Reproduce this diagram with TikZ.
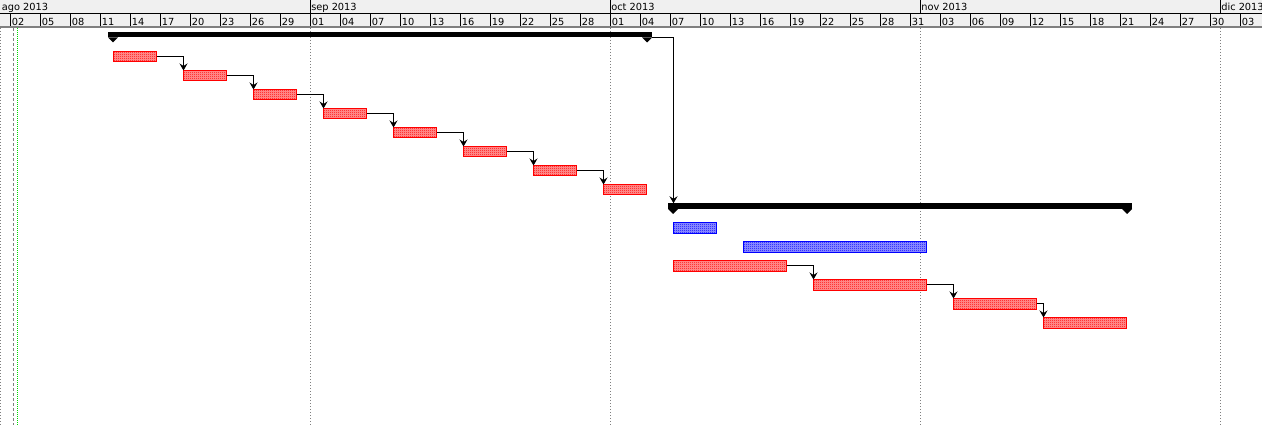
\documentclass[tikz,border=0pt]{standalone}
\usepackage{fontspec}
\setmainfont{DejaVu Sans}
\usetikzlibrary{arrows.meta,calc,patterns.meta}
\pgfdeclarepattern{name=checker,type=uncolored,
  bottom left={\pgfpoint{0pt}{0pt}},top right={\pgfpoint{2pt}{2pt}},
  tile size={\pgfpoint{2pt}{2pt}},
  code={\pgfpathrectangle{\pgfpoint{0pt}{0pt}}{\pgfpoint{1pt}{1pt}}
        \pgfpathrectangle{\pgfpoint{1pt}{1pt}}{\pgfpoint{1pt}{1pt}}
        \pgfusepath{fill}}}
\definecolor{hdrbg}{RGB}{240,240,240}
\definecolor{gridgray}{RGB}{128,128,128}
\definecolor{todaygreen}{RGB}{0,220,0}
\newcommand\ganttbar[6]{\node[#6, minimum width={#4-#2-1}, minimum height={#5-#3-1}] (#1) at ({#2+0.5},{#3+0.5}) {};}
\tikzset{
  barbase/.style={line width=1pt, inner sep=0pt, outer sep=0pt, anchor=north west},
  redbar/.style={barbase, draw=red, preaction={fill=red!40!white}, pattern={checker}, pattern color=red},
  bluebar/.style={barbase, draw=blue, preaction={fill=blue!40!white}, pattern={checker}, pattern color=blue},
  sumbar/.style={fill=black, draw=none, inner sep=0pt, outer sep=0pt, anchor=north west},
  conn/.style={draw=black, line width=1pt, -{Stealth[length=7pt,width=8pt,inset=2.5pt]}},
  hdrtext/.style={font=\fontsize{9.8}{10}\selectfont, inner sep=0pt, outer sep=0pt, anchor=base west},
  monthline/.style={gridgray, line width=1pt, dash pattern=on 1pt off 2pt},
}
\begin{document}
\begin{tikzpicture}[x=1pt,y=-1pt]
\useasboundingbox (0,0) rectangle (1262,425);
% header
\fill[hdrbg] (0,0) rectangle (1262,26);
\draw[black, line width=1pt] (0,13.5) -- (1262,13.5);
\draw[gridgray, line width=2pt] (0,27) -- (1262,27);
\foreach \mx/\mlab [count=\m] in {1/ago 2013,310.5/sep 2013,610.5/oct 2013,920.5/nov 2013,1220.5/dic 2013}{
  \ifnum\m>1 \draw[black, line width=1pt] (\mx,0) -- (\mx,13.5);
  \draw[monthline] (\mx,28) -- (\mx,425);\fi
  \node[hdrtext] (month\m) at ({\mx+0.8},10.4) {\mlab};
}
\foreach \lab [count=\k from 0] in {02,05,08,11,14,17,20,23,26,29,01,04,07,10,13,16,19,22,25,28,01,04,07,10,13,16,19,22,25,28,31,03,06,09,12,15,18,21,24,27,30,03}{
  \draw[black, line width=1pt] ({10.5+30*\k},13.5) -- ({10.5+30*\k},26);
  \node[hdrtext] (day\k) at ({11.8+30*\k},25.3) {\lab};
}
% left guide lines
\draw[monthline] (0.5,28) -- (0.5,425);
\draw[gridgray, line width=1pt, dash pattern=on 3pt off 2pt] (13.5,28) -- (13.5,425);
\draw[todaygreen, line width=1pt, dash pattern=on 1pt off 1pt] (17.5,28) -- (17.5,425);
% phase 1 summary
\node[sumbar, minimum width=544, minimum height=5.5] (s1) at (108,32) {};
\fill (s1.south west) -- ++(10,0) -- ++(-5,5) -- cycle;
\fill (s1.south east) -- ++(-10,0) -- ++(5,5) -- cycle;
% phase 1 tasks
\ganttbar{t1}{113}{51}{157}{62.5}{redbar}
\ganttbar{t2}{183}{70}{227}{81.5}{redbar}
\ganttbar{t3}{253}{89}{297}{100.5}{redbar}
\ganttbar{t4}{323}{108}{367}{119.5}{redbar}
\ganttbar{t5}{393}{127}{437}{138.5}{redbar}
\ganttbar{t6}{463}{146}{507}{157.5}{redbar}
\ganttbar{t7}{533}{165}{577}{176.5}{redbar}
\ganttbar{t8}{603}{184}{647}{195.5}{redbar}
\foreach \a/\b in {t1/t2,t2/t3,t3/t4,t4/t5,t5/t6,t6/t7,t7/t8}{
  \draw[conn] (\a.east) -| (\b.north west);
}
% phase 2 summary
\node[sumbar, minimum width=464, minimum height=5.7] (s2) at (668,203.3) {};
\fill (s2.south west) -- ++(10,0) -- ++(-5,5) -- cycle;
\fill (s2.south east) -- ++(-10,0) -- ++(5,5) -- cycle;
\coordinate (s2in) at ($(s2.north west)+(5.5,0)$);
\draw[conn] (s1.south east) -| (s2in);
% phase 2 tasks
\ganttbar{b1}{673}{222}{717}{233.5}{bluebar}
\ganttbar{b2}{743}{241}{927}{252.5}{bluebar}
\ganttbar{r1}{673}{260}{787}{271.5}{redbar}
\ganttbar{r2}{813}{279}{927}{290.5}{redbar}
\ganttbar{r3}{953}{298}{1037}{309.5}{redbar}
\ganttbar{r4}{1043}{317}{1127}{328.5}{redbar}
\foreach \a/\b in {r1/r2,r2/r3,r3/r4}{
  \draw[conn] (\a.east) -| (\b.north west);
}
\end{tikzpicture}
\end{document}
